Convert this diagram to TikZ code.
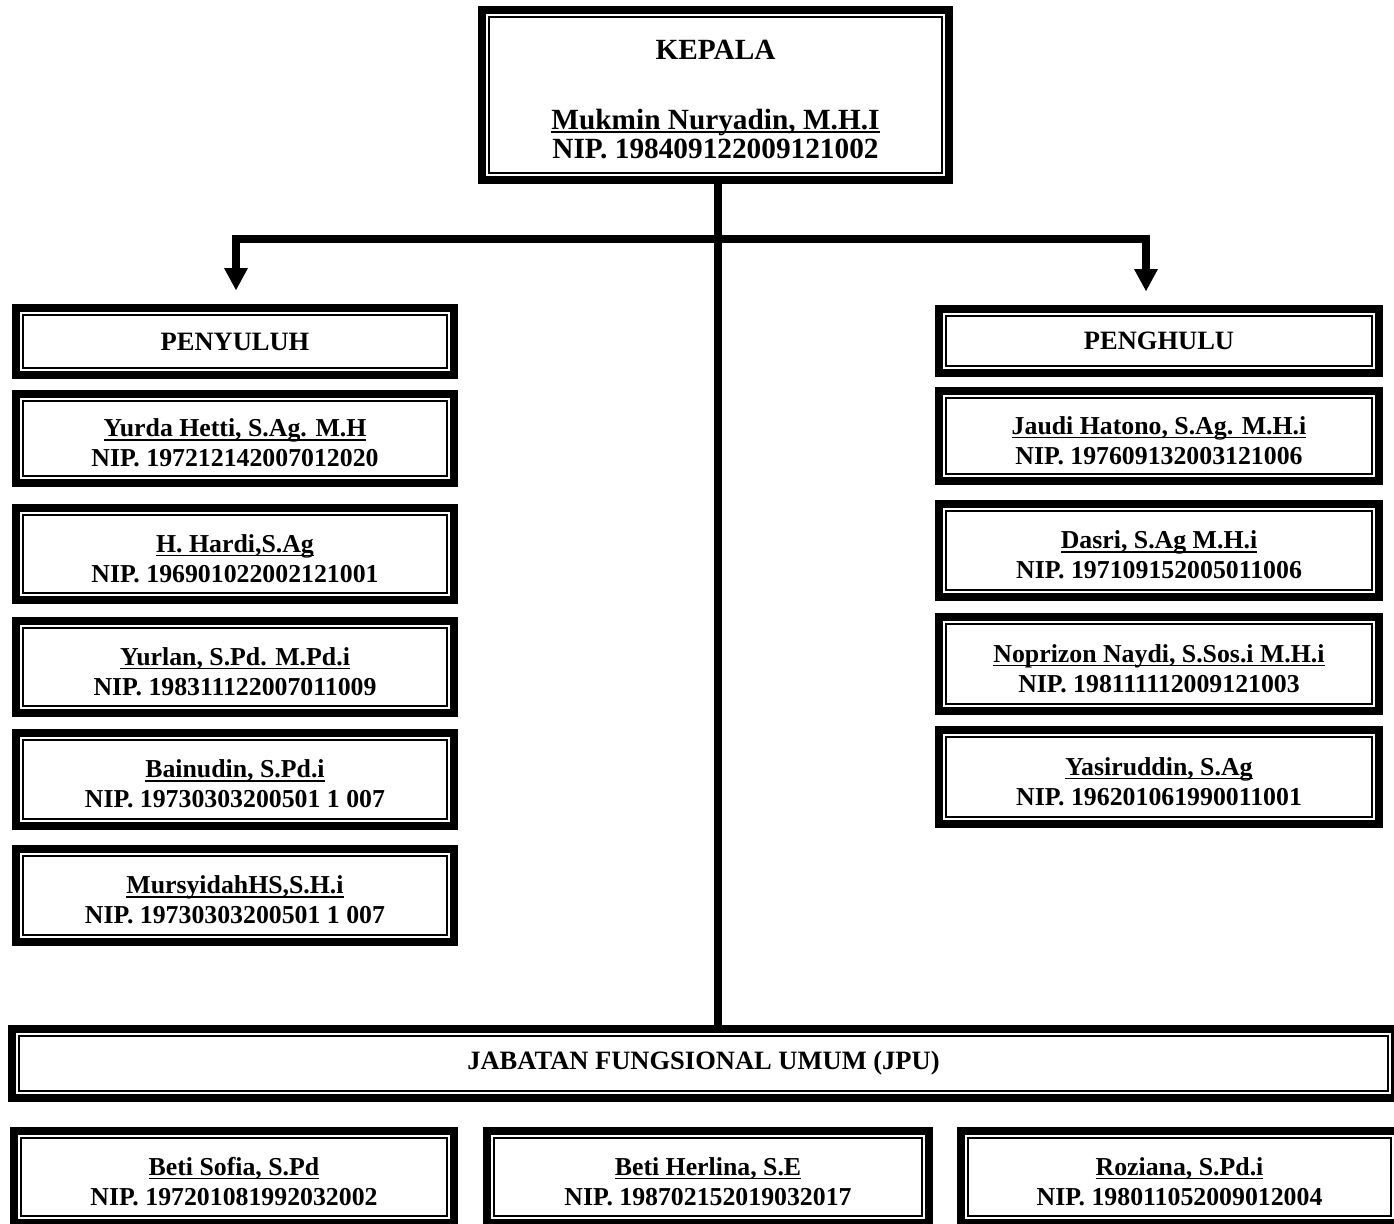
\documentclass[tikz,border=0pt]{standalone}
\usepackage{fontspec}
\setmainfont{Liberation Serif}
\usetikzlibrary{arrows.meta}
\newcommand{\myul}[1]{\setbox0=\hbox{#1}\leavevmode\rlap{\vrule width\wd0 height -2.2bp depth 4bp}\box0}
\newcommand{\nm}[1]{\rule{0pt}{27bp}\myul{#1}}
\tikzset{
  orgbox/.style={draw=black, line width=8bp, rectangle, inner sep=0pt, align=center,
    font=\bfseries\fontsize{25.8bp}{30bp}\selectfont,
    path picture={\draw[line width=2bp]
      ([shift={(7bp,-7bp)}]path picture bounding box.north west) rectangle
      ([shift={(-7bp,7bp)}]path picture bounding box.south east);}},
  headbox/.style={orgbox, font=\bfseries\fontsize{26.5bp}{30bp}\selectfont},
  topbox/.style={orgbox, font=\bfseries\fontsize{29.3bp}{29bp}\selectfont},
  conn/.style={line width=8bp, line join=miter},
  tip/.style={{Triangle[width=24bp,length=22bp,line width=0pt]}-{Triangle[width=24bp,length=22bp,line width=0pt]}}
}
\begin{document}
\begin{tikzpicture}[x=1bp,y=-1bp]
\useasboundingbox (0,0) rectangle (1394,1223);
\fill[white] (0,0) rectangle (1394,1223);
% top
\node[topbox, minimum width=467bp, minimum height=170bp] (kepala) at (715.5,95)
  {\rule{0pt}{28bp}KEPALA\\[41bp]\myul{Mukmin Nuryadin, M.H.I}\\NIP. 198409122009121002};
% left column
\node[headbox, minimum width=438bp, minimum height=67bp] (penyuluh) at (235,341.5) {PENYULUH};
\node[orgbox, minimum width=438bp, minimum height=89bp] (yurda) at (235,438.5)
  {\nm{Yurda Hetti, S.Ag. M.H}\\NIP. 197212142007012020};
\node[orgbox, minimum width=438bp, minimum height=92bp] (hardi) at (235,554)
  {\nm{H. Hardi,S.Ag}\\NIP. 196901022002121001};
\node[orgbox, minimum width=438bp, minimum height=92bp] (yurlan) at (235,667)
  {\nm{Yurlan, S.Pd. M.Pd.i}\\NIP. 198311122007011009};
\node[orgbox, minimum width=438bp, minimum height=93bp] (bainudin) at (235,779.5)
  {\nm{Bainudin, S.Pd.i}\\NIP. 19730303200501 1 007};
\node[orgbox, minimum width=438bp, minimum height=93bp] (mursyidah) at (235,895.5)
  {\nm{MursyidahHS,S.H.i}\\NIP. 19730303200501 1 007};
% right column
\node[headbox, minimum width=440bp, minimum height=64bp] (penghulu) at (1159,341) {PENGHULU};
\node[orgbox, minimum width=440bp, minimum height=90bp] (jaudi) at (1159,436)
  {\nm{Jaudi Hatono, S.Ag. M.H.i}\\NIP. 197609132003121006};
\node[orgbox, minimum width=440bp, minimum height=93bp] (dasri) at (1159,550.5)
  {\nm{Dasri, S.Ag M.H.i}\\NIP. 197109152005011006};
\node[orgbox, minimum width=440bp, minimum height=94bp] (noprizon) at (1159,664)
  {\nm{Noprizon Naydi, S.Sos.i M.H.i}\\NIP. 198111112009121003};
\node[orgbox, minimum width=440bp, minimum height=94bp] (yasiruddin) at (1159,777)
  {\nm{Yasiruddin, S.Ag}\\NIP. 196201061990011001};
% JPU
\node[headbox, minimum width=1383bp, minimum height=69bp] (jpu) at (703.5,1063.5)
  {JABATAN FUNGSIONAL UMUM (JPU)};
\node[orgbox, minimum width=440bp, minimum height=92bp] (beti1) at (234,1177)
  {\nm{Beti Sofia, S.Pd}\\NIP. 197201081992032002};
\node[orgbox, minimum width=442bp, minimum height=92bp] (beti2) at (708,1177)
  {\nm{Beti Herlina, S.E}\\NIP. 198702152019032017};
\node[orgbox, minimum width=437bp, minimum height=92bp] (roziana) at (1179.5,1177)
  {\nm{Roziana, S.Pd.i}\\NIP. 198011052009012004};
% connectors
\coordinate (tx) at (718,500);
\coordinate (hl) at (236,239);
\coordinate (hr) at (1146,239);
\draw[conn] (kepala.south -| tx) -- (jpu.north -| tx);
\draw[conn, tip, shorten <=14bp, shorten >=14bp] (penyuluh.north -| hl) -- (hl) -- (hr) -- (penghulu.north -| hr);
\end{tikzpicture}
\end{document}
